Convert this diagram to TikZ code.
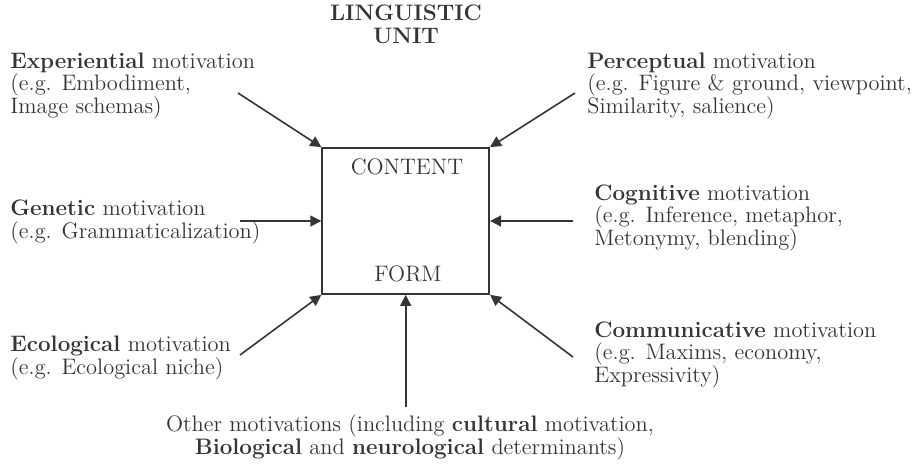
\documentclass[tikz,border=0pt]{standalone}
\usepackage{tikz}
\usetikzlibrary{arrows.meta,positioning}
\definecolor{ink}{HTML}{353535}
\lineskiplimit=-\maxdimen

\begin{document}
\begin{tikzpicture}[x=0.5pt,y=-0.5pt,
  font=\fontsize{11.2}{11.25}\selectfont, color=ink,
  txt/.style={inner sep=0pt,align=left,anchor=base west},
  ctr/.style={inner sep=0pt,align=center,anchor=base},
  box/.style={draw=ink,line width=0.9pt,minimum width=83.5pt,minimum height=73pt,inner sep=0pt},
  ar/.style={-{Triangle[length=5.5pt,width=5.5pt]},line width=0.8pt,draw=ink}]
  \useasboundingbox (0,0) rectangle (912,467);
  \node[box] (unit) at (405.7,221) {};
  \node[ctr] (content) at (407,174) {CONTENT};
  \node[ctr] (form) at (408,281) {FORM};
  \node[ctr,font=\fontsize{11.2}{11.25}\selectfont\bfseries] (title) at (406,43) {LINGUISTIC\\UNIT};
  \node[txt] (exper) at (10,113) {\textbf{Experiential} motivation\\(e.g. Embodiment,\\Image schemas)};
  \node[txt] (percep) at (587,113) {\textbf{Perceptual} motivation\\(e.g. Figure \& ground, viewpoint,\\Similarity, salience)};
  \node[txt] (genet) at (10,238) {\textbf{Genetic} motivation\\(e.g. Grammaticalization)};
  \node[txt] (cognit) at (594,245) {\textbf{Cognitive} motivation\\(e.g. Inference, metaphor,\\Metonymy, blending)};
  \node[txt] (ecolog) at (10,374) {\textbf{Ecological} motivation\\(e.g. Ecological niche)};
  \node[txt] (commun) at (594,382) {\textbf{Communicative} motivation\\(e.g. Maxims, economy,\\Expressivity)};
  \node[ctr] (other) at (410,454) {Other motivations (including \textbf{cultural} motivation,\\\textbf{Biological} and \textbf{neurological} determinants)};
  % arrow tails
  \coordinate (t1) at (238,93);
  \coordinate (t2) at (575,93);
  \coordinate (t3) at (240,221);
  \coordinate (t4) at (573,221);
  \coordinate (t5) at (240,355);
  \coordinate (t6) at (573,357);
  \coordinate (t7) at (405.7,407);
  \foreach \s/\e in {t1/north west,t2/north east,t3/west,t4/east,t5/south west,t6/south east,t7/south}
    \draw[ar] (\s) -- (unit.\e);
\end{tikzpicture}
\end{document}
